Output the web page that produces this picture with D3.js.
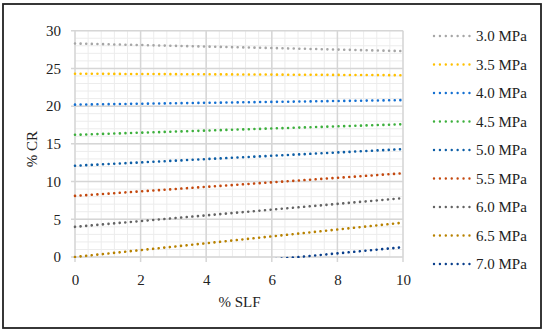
<!DOCTYPE html>
<html><head><meta charset="utf-8">
<script src="https://cdn.jsdelivr.net/npm/d3@7"></script>
<style>body{margin:0;background:#fff}svg{display:block}</style>
</head><body><svg id="c" width="550" height="334"></svg>
<script>
const seriesNames = ["3.0 MPa","3.5 MPa","4.0 MPa","4.5 MPa","5.0 MPa","5.5 MPa","6.0 MPa","6.5 MPa","7.0 MPa"];
const xValues = [0, 10];
const yAtStart = [28.3, 24.3, 20.2, 16.2, 12.1, 8.1, 4.0, 0.0, -2.8];
const yAtEnd   = [27.3, 24.1, 20.8, 17.6, 14.3, 11.1, 7.8, 4.55, 1.3];
const colors = ["#a6a6a6","#ffc000","#1470d2","#3db03d","#0d5ea6","#c4480e","#636363","#b88200","#0a3f8c"];
const xTicks = [0,2,4,6,8,10];
const yTicks = [0,5,10,15,20,25,30];

const FONT = "'Liberation Serif', 'Times New Roman', 'DejaVu Serif', serif";
const svg = d3.select("#c");
svg.append("rect").attr("x",3).attr("y",4).attr("width",538).attr("height",324)
  .attr("fill","none").attr("stroke","#222").attr("stroke-width",1.8);

const x = d3.scaleLinear().domain([0,10]).range([75,403]);
const y = d3.scaleLinear().domain([0,30]).range([257,30.7]);

const g = svg.append("g");
g.selectAll(".mx").data(d3.range(0,10.001,0.4)).join("line")
  .attr("x1",d=>x(d)).attr("x2",d=>x(d)).attr("y1",y(0)).attr("y2",y(30))
  .attr("stroke","#ececec").attr("stroke-width",1);
g.selectAll(".my").data(d3.range(0,30.001,1)).join("line")
  .attr("y1",d=>y(d)).attr("y2",d=>y(d)).attr("x1",x(0)).attr("x2",x(10))
  .attr("stroke","#ececec").attr("stroke-width",1);
g.selectAll(".Mx").data(xTicks).join("line")
  .attr("x1",d=>x(d)).attr("x2",d=>x(d)).attr("y1",y(0)+5).attr("y2",y(30))
  .attr("stroke","#d6d6d6").attr("stroke-width",1.5);
g.selectAll(".My").data(yTicks).join("line")
  .attr("y1",d=>y(d)).attr("y2",d=>y(d)).attr("x1",x(0)-4).attr("x2",x(10))
  .attr("stroke","#d6d6d6").attr("stroke-width",1.5);

const yAxis = d3.axisLeft(y).tickValues(yTicks).tickSize(0).tickPadding(14);
const ya = svg.append("g").attr("transform",`translate(${x(0)},0)`).call(yAxis)
  .attr("font-family",FONT).attr("font-size",15);
ya.select(".domain").remove();
ya.selectAll("text").attr("fill","#222");
const xAxis = d3.axisBottom(x).tickValues(xTicks).tickSize(0).tickPadding(17);
const xa = svg.append("g").attr("transform",`translate(0,${y(0)})`).call(xAxis)
  .attr("font-family",FONT).attr("font-size",15);
xa.select(".domain").remove();
xa.selectAll("text").attr("fill","#222");

svg.append("text").attr("x",239.5).attr("y",307).attr("text-anchor","middle")
  .attr("font-family",FONT).attr("font-size",15).attr("fill","#222").text("% SLF");
svg.append("text").attr("transform","translate(37,149) rotate(-90)").attr("text-anchor","middle")
  .attr("font-family",FONT).attr("font-size",15).attr("fill","#222").text("% CR");

svg.append("clipPath").attr("id","pc").append("rect")
  .attr("x",x(0)-2).attr("y",y(30)-2).attr("width",x(10)-x(0)+4).attr("height",y(0)-y(30)+3);

const data = seriesNames.map((n,i)=>({name:n,color:colors[i],pts:[[xValues[0],yAtStart[i]],[xValues[1],yAtEnd[i]]]}));
const line = d3.line().x(d=>x(d[0])).y(d=>y(d[1]));
const lg = svg.append("g").attr("clip-path","url(#pc)");
data.forEach(s=>{
  lg.append("path").attr("d",line(s.pts)).attr("fill","none").attr("stroke",s.color)
    .attr("stroke-width",2.6).attr("stroke-linecap","round").attr("stroke-dasharray","0.01 5.6");
});

const leg = svg.append("g");
data.forEach((s,i)=>{
  const cy = 36 + i*28.5;
  leg.append("line").attr("x1",434).attr("x2",471).attr("y1",cy).attr("y2",cy)
    .attr("stroke",s.color).attr("stroke-width",2.4).attr("stroke-linecap","round").attr("stroke-dasharray","0.01 5.9");
  leg.append("text").attr("x",476).attr("y",cy+5).attr("font-family",FONT).attr("font-size",15)
    .attr("fill","#222").text(s.name);
});
</script></body></html>
